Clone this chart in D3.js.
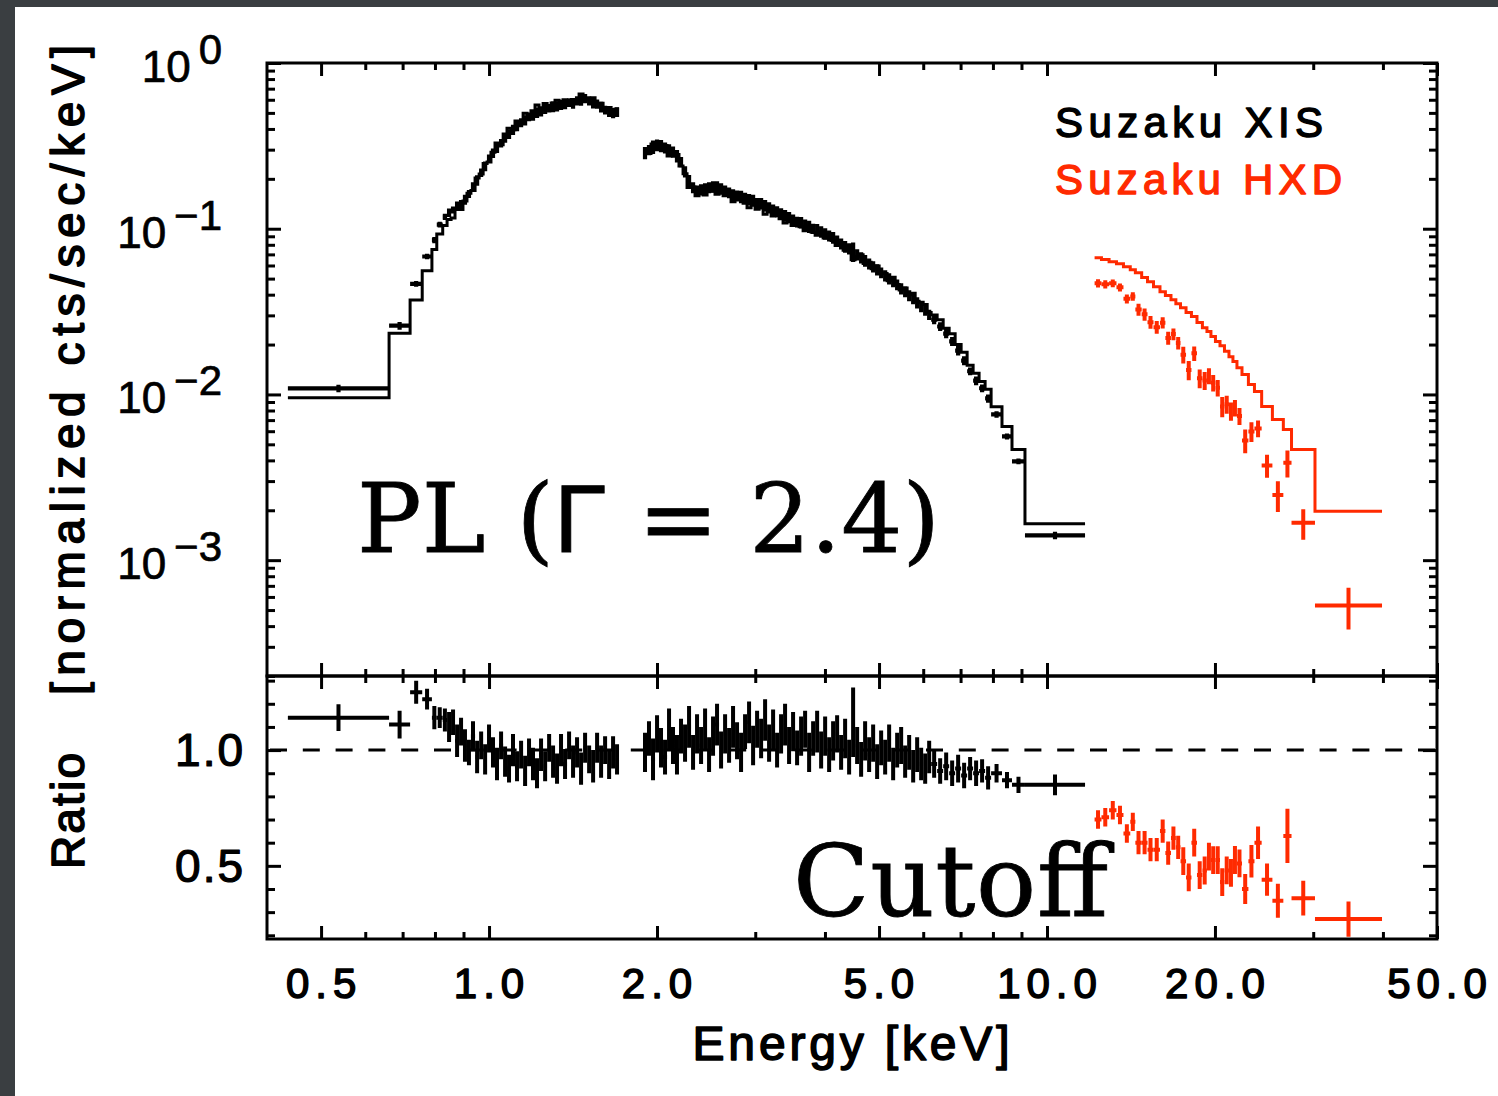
<!DOCTYPE html>
<html>
<head>
<meta charset="utf-8">
<script src="https://cdn.jsdelivr.net/npm/d3@7"></script>
<style>
  body { margin: 0; background: #fff; }
  svg { display: block; }
</style>
</head>
<body>
<svg id="chart" width="1498" height="1096"></svg>
<script>
// ---------------- Suzaku XIS, below the 1.7-1.9 keV gap ----------------
const xisEdgesA = [0.436, 0.662, 0.722, 0.759, 0.790, 0.806, 0.826, 0.841,
  0.855, 0.869, 0.884, 0.898, 0.913, 0.928, 0.944, 0.960, 0.976, 0.992,
  1.008, 1.025, 1.042, 1.060, 1.077, 1.095, 1.113, 1.132, 1.151, 1.170,
  1.189, 1.209, 1.229, 1.250, 1.271, 1.292, 1.313, 1.335, 1.357, 1.380,
  1.403, 1.426, 1.450, 1.474, 1.499, 1.524, 1.549, 1.575, 1.601, 1.628,
  1.655, 1.682, 1.710];
const xisRateA = [0.01087, 0.0260, 0.0465, 0.0680, 0.0855, 0.106, 0.118,
  0.125, 0.130, 0.137, 0.141, 0.150, 0.162, 0.180, 0.196, 0.218, 0.238,
  0.265, 0.286, 0.309, 0.328, 0.354, 0.372, 0.396, 0.416, 0.437, 0.452,
  0.474, 0.485, 0.502, 0.512, 0.530, 0.534, 0.545, 0.549, 0.560, 0.565,
  0.576, 0.572, 0.592, 0.598, 0.610, 0.590, 0.574, 0.566, 0.543, 0.521,
  0.507, 0.500, 0.507];
const xisRatioA = [1.14, 1.11, 1.25, 1.22, 1.14, 1.14, 1.13,
  1.10, 1.12, 1.04, 1.08, 1.02, 0.99, 1.06, 0.97, 1.02, 0.96,
  1.05, 0.99, 0.94, 1.02, 0.95, 0.92, 1.00, 0.93, 0.98, 0.91,
  0.99, 0.94, 0.90, 0.98, 0.93, 1.01, 0.95, 0.92, 1.00, 0.94,
  1.02, 0.95, 0.99, 0.92, 1.01, 0.96, 0.93, 1.01, 0.95, 1.00,
  0.94, 0.99, 0.96];
const xisRatioErrA = [0.058, 0.060, 0.050, 0.045, 0.050, 0.045, 0.050,
  0.065, 0.055, 0.070, 0.060, 0.070, 0.055, 0.065, 0.070, 0.060, 0.065,
  0.060, 0.065, 0.070, 0.060, 0.065, 0.060, 0.070, 0.065, 0.060, 0.065,
  0.060, 0.070, 0.065, 0.070, 0.065, 0.060, 0.070, 0.065, 0.070, 0.065,
  0.060, 0.070, 0.065, 0.070, 0.065, 0.060, 0.070, 0.065, 0.070, 0.060,
  0.065, 0.070, 0.065];

// ---------------- Suzaku XIS, above the gap ----------------
const xisEdgesB = [1.888, 1.919, 1.951, 1.984, 2.017, 2.050, 2.085, 2.119, 2.154, 2.190,
  2.227, 2.264, 2.302, 2.340, 2.379, 2.419, 2.459, 2.500, 2.541, 2.584,
  2.627, 2.671, 2.715, 2.760, 2.806, 2.853, 2.900, 2.949, 2.998, 3.048,
  3.099, 3.150, 3.203, 3.256, 3.310, 3.365, 3.421, 3.478, 3.536, 3.595,
  3.655, 3.716, 3.778, 3.841, 3.905, 3.970, 4.036, 4.103, 4.171, 4.241,
  4.311, 4.383, 4.456, 4.530, 4.606, 4.682, 4.760, 4.840, 4.920, 5.002,
  5.086, 5.170, 5.256, 5.344, 5.433, 5.523, 5.615, 5.709, 5.804, 5.900,
  5.999, 6.099, 6.200,
  6.355, 6.515, 6.678, 6.845, 7.016, 7.192, 7.372, 7.556, 7.746, 7.940,
  8.305, 8.655, 9.131, 11.70];
const xisRateB = [0.287, 0.299, 0.312, 0.321, 0.316, 0.308, 0.299, 0.291, 0.275, 0.253,
  0.221, 0.195, 0.177, 0.169, 0.172, 0.174, 0.177, 0.179, 0.179, 0.174,
  0.169, 0.165, 0.160, 0.158, 0.156, 0.154, 0.150, 0.148, 0.143, 0.142,
  0.138, 0.134, 0.130, 0.127, 0.123, 0.120, 0.117, 0.113, 0.110, 0.109,
  0.106, 0.103, 0.100, 0.0986, 0.0959, 0.0933, 0.0907, 0.0883, 0.0847, 0.0812,
  0.0779, 0.0758, 0.0727, 0.0697, 0.0669, 0.0642, 0.0615, 0.0590, 0.0566, 0.0543,
  0.0521, 0.0500, 0.0479, 0.0460, 0.0435, 0.0417, 0.0395, 0.0379, 0.0358, 0.0339,
  0.0321, 0.0303,
  0.0283, 0.0257, 0.0233, 0.0209, 0.0184, 0.0160, 0.0138, 0.0121, 0.0109, 0.00946,
  0.00758, 0.00558, 0.00395, 0.00141];
const xisRatioB = [0.99, 1.05, 0.96, 1.07, 1.01, 0.97, 1.09, 1.02, 0.98, 1.06,
  1.03, 1.10, 0.99, 1.07, 1.02, 1.09, 0.98, 1.06, 1.11, 1.00,
  1.07, 1.02, 1.10, 1.04, 0.99, 1.08, 1.12, 1.02, 1.09, 1.05,
  1.13, 1.03, 1.09, 1.00, 1.07, 1.11, 1.02, 1.08, 1.01, 1.06,
  1.09, 0.99, 1.05, 1.08, 1.00, 1.06, 0.98, 1.04, 1.07, 0.99,
  1.05, 0.97, 1.12, 1.02, 0.96, 1.04, 0.98, 1.03, 0.95, 1.01,
  0.97, 1.03, 0.94, 1.00, 1.02, 0.95, 0.99, 0.93, 0.98, 0.94,
  0.92, 0.97,
  0.94, 0.91, 0.93, 0.90, 0.92, 0.89, 0.92, 0.90, 0.91, 0.88,
  0.90, 0.87, 0.85, 0.85];
const xisRatioErrB = [0.085, 0.075, 0.090, 0.080, 0.085, 0.075, 0.090, 0.080, 0.085, 0.075,
  0.080, 0.090, 0.075, 0.085, 0.080, 0.090, 0.075, 0.085, 0.090, 0.080,
  0.085, 0.075, 0.090, 0.080, 0.085, 0.075, 0.090, 0.085, 0.080, 0.085,
  0.090, 0.080, 0.085, 0.075, 0.085, 0.090, 0.080, 0.085, 0.075, 0.085,
  0.080, 0.085, 0.075, 0.090, 0.080, 0.085, 0.075, 0.085, 0.080, 0.075,
  0.085, 0.075, 0.150, 0.080, 0.075, 0.085, 0.075, 0.080, 0.075, 0.075,
  0.075, 0.080, 0.070, 0.075, 0.080, 0.070, 0.075, 0.070, 0.075, 0.070,
  0.065, 0.070,
  0.060, 0.055, 0.060, 0.055, 0.060, 0.055, 0.050, 0.055, 0.050, 0.050,
  0.040, 0.035, 0.035, 0.045];

// ---------------- Suzaku HXD/PIN ----------------
const hxdLo = [12.17, 12.52, 12.92, 13.32, 13.71, 14.10, 14.40, 14.78, 15.14, 15.52,
  15.94, 16.30, 16.68, 17.02, 17.35, 17.75, 18.15, 18.57, 18.99, 19.35,
  19.67, 20.04, 20.42, 20.80, 21.19, 21.54, 21.90, 22.36, 22.96, 23.54,
  24.25, 25.35, 26.52, 27.43, 30.22];
const hxdHi = [12.52, 12.92, 13.32, 13.71, 14.10, 14.40, 14.78, 15.14, 15.52, 15.94,
  16.30, 16.68, 17.02, 17.35, 17.75, 18.15, 18.57, 18.99, 19.35, 19.67,
  20.04, 20.42, 20.80, 21.19, 21.54, 21.90, 22.36, 22.96, 23.54, 24.25,
  25.35, 26.52, 27.43, 30.22, 39.85];
const hxdRate = [0.04683, 0.04622, 0.04684, 0.04428, 0.03776, 0.03905, 0.03258, 0.03042, 0.02730, 0.02548,
  0.02711, 0.02192, 0.02313, 0.02047, 0.01737, 0.01404, 0.01770, 0.01251, 0.01214, 0.01296,
  0.01176, 0.01097, 0.00847, 0.00874, 0.00794, 0.00830, 0.00740, 0.00528, 0.00598, 0.00624,
  0.00373, 0.00247, 0.00387, 0.00168, 0.000532];
const hxdRateErr = [0.00268, 0.00260, 0.00253, 0.00246, 0.00236, 0.00226, 0.00272, 0.00254, 0.00240, 0.00224,
  0.00209, 0.00198, 0.00187, 0.00177, 0.00200, 0.00187, 0.00177, 0.00163, 0.00152, 0.00144,
  0.00134, 0.00125, 0.00118, 0.00109, 0.00101, 0.00095, 0.00087, 0.00086, 0.00081, 0.00073,
  0.00059, 0.00052, 0.00072, 0.00035, 0.00015];
const hxdModel = [0.0669, 0.0651, 0.0633, 0.0615, 0.0590, 0.0566, 0.0543, 0.0507, 0.0479, 0.0447,
  0.0417, 0.0395, 0.0373, 0.0353, 0.0334, 0.0312, 0.0295, 0.0272, 0.0253, 0.0240,
  0.0224, 0.0209, 0.0197, 0.0182, 0.0169, 0.0158, 0.0145, 0.0132, 0.0115, 0.0104,
  0.00847, 0.00707, 0.00615, 0.00466, 0.00197];

// ---------------- axes ----------------
const xMajor = [0.5, 1, 2, 5, 10, 20, 50];
const xMajorLabels = ["0.5", "1.0", "2.0", "5.0", "10.0", "20.0", "50.0"];
const xMinor = [0.6, 0.7, 0.8, 0.9, 3, 4, 6, 7, 8, 9, 30, 40];
const specDecades = [1, 1e-1, 1e-2, 1e-3];
const specDecadeExp = ["0", "\u22121", "\u22122", "\u22123"];
const ratioMajor = [0.5, 1.0];
const ratioLabels = ["0.5", "1.0"];
const ratioMinor = [0.2, 0.3, 0.4, 0.6, 0.7, 0.8, 0.9, 1.1, 1.2, 1.3];

const BLACK = "#000000";
const RED = "#ff2a00";
const SANS = "'Liberation Sans', Arial, Helvetica, sans-serif";
const SERIF = "'DejaVu Serif', serif";

const svg = d3.select("#chart");
const W = 1498, H = 1096;

// page background with dark frame
svg.append("rect").attr("width", W).attr("height", H).attr("fill", "#3a3e41");
svg.append("rect").attr("x", 15).attr("y", 7).attr("width", W - 15).attr("height", H - 7).attr("fill", "#ffffff");

// panel geometry
const L = 267, R = 1437, T = 63, M = 676, B = 939;
const x = d3.scaleLog().domain([0.4, 50]).range([L, R]);
const yS = d3.scaleLog().domain([2e-4, 1]).range([M, T]);
const yR = d3.scaleLinear().domain([0.184, 1.32]).range([B, M]);

// bins
function xisBins(edges, rate, ratio, err) {
  return rate.map((r, i) => {
    const lo = edges[i], hi = edges[i + 1];
    const model = r / ratio[i];
    return { lo, hi, e: Math.sqrt(lo * hi), rate: r, rateErr: model * err[i],
             model, ratio: ratio[i], ratioErr: err[i] };
  });
}
const xisA = xisBins(xisEdgesA, xisRateA, xisRatioA, xisRatioErrA);
const xisB = xisBins(xisEdgesB, xisRateB, xisRatioB, xisRatioErrB);
const hxd = hxdRate.map((r, i) => ({
  lo: hxdLo[i], hi: hxdHi[i], e: Math.sqrt(hxdLo[i] * hxdHi[i]),
  rate: r, rateErr: hxdRateErr[i], model: hxdModel[i],
  ratio: r / hxdModel[i], ratioErr: hxdRateErr[i] / hxdModel[i]
}));

// ticks (drawn inward on every side)
function ticks(axis, transform, values, size) {
  const g = svg.append("g").attr("transform", transform)
    .call(axis.tickValues(values).tickSize(size).tickFormat(""));
  g.select(".domain").remove();
  g.selectAll("line").attr("stroke", BLACK).attr("stroke-width", 3);
}
ticks(d3.axisTop(x), `translate(0,${T})`, xMajor, -13);
ticks(d3.axisTop(x), `translate(0,${T})`, xMinor, -7);
ticks(d3.axisBottom(x), `translate(0,${M})`, xMajor, -13);
ticks(d3.axisBottom(x), `translate(0,${M})`, xMinor, -7);
ticks(d3.axisTop(x), `translate(0,${M})`, xMajor, -13);
ticks(d3.axisTop(x), `translate(0,${M})`, xMinor, -7);
ticks(d3.axisBottom(x), `translate(0,${B})`, xMajor, -13);
ticks(d3.axisBottom(x), `translate(0,${B})`, xMinor, -7);

const specAll = yS.ticks();
const specMinor = specAll.filter(v => !specDecades.some(d => Math.abs(v / d - 1) < 1e-6));
ticks(d3.axisLeft(yS), `translate(${L},0)`, specDecades, -14);
ticks(d3.axisLeft(yS), `translate(${L},0)`, specMinor, -8);
ticks(d3.axisRight(yS), `translate(${R},0)`, specDecades, -14);
ticks(d3.axisRight(yS), `translate(${R},0)`, specMinor, -8);
ticks(d3.axisLeft(yR), `translate(${L},0)`, ratioMajor, -14);
ticks(d3.axisLeft(yR), `translate(${L},0)`, ratioMinor, -8);
ticks(d3.axisRight(yR), `translate(${R},0)`, ratioMajor, -14);
ticks(d3.axisRight(yR), `translate(${R},0)`, ratioMinor, -8);

// unity line in the ratio panel
svg.append("line")
  .attr("x1", 270).attr("x2", R).attr("y1", yR(1)).attr("y2", yR(1))
  .attr("stroke", BLACK).attr("stroke-width", 3).attr("stroke-dasharray", "17 15.8");

// annotations inside the panels
const pl = svg.append("text")
  .attr("x", 357).attr("y", 552)
  .attr("font-family", SERIF).attr("font-size", 96).attr("fill", BLACK)
  .attr("stroke", BLACK).attr("stroke-width", 0.8)
  .attr("textLength", 583).attr("lengthAdjust", "spacing");
pl.append("tspan").text("PL (");
pl.append("tspan").attr("font-family", SANS).text("\u0393");
pl.append("tspan").text(" = 2.4)");

svg.append("text")
  .attr("x", 793).attr("y", 916)
  .attr("font-family", SERIF).attr("font-size", 100).attr("fill", BLACK)
  .attr("stroke", BLACK).attr("stroke-width", 0.8)
  .attr("textLength", 315).attr("lengthAdjust", "spacing")
  .text("Cutoff");

// error-bar crosses
function crosses(data, yScale, val, err, color, sw) {
  svg.append("g")
    .attr("fill", "none").attr("stroke", color).attr("stroke-width", sw)
    .selectAll("path").data(data).join("path")
    .attr("d", d => {
      const v = val(d), e = err(d);
      return `M${x(d.lo)},${yScale(v)}H${x(d.hi)}` +
             `M${x(d.e)},${yScale(v - e)}V${yScale(v + e)}`;
    });
}
// model step lines
function steps(data, color) {
  const pts = [];
  data.forEach(d => { pts.push([d.lo, d.model]); pts.push([d.hi, d.model]); });
  svg.append("path")
    .attr("d", d3.line().x(p => x(p[0])).y(p => yS(p[1]))(pts))
    .attr("fill", "none").attr("stroke", color).attr("stroke-width", 3);
}

// spectrum panel
steps(xisA, BLACK);
steps(xisB, BLACK);
crosses(xisA, yS, d => d.rate, d => d.rateErr, BLACK, 4.2);
crosses(xisB, yS, d => d.rate, d => d.rateErr, BLACK, 4.2);
steps(hxd, RED);
crosses(hxd, yS, d => d.rate, d => d.rateErr, RED, 4);

// ratio panel
crosses(xisA, yR, d => d.ratio, d => d.ratioErr, BLACK, 4);
crosses(xisB, yR, d => d.ratio, d => d.ratioErr, BLACK, 4);
crosses(hxd, yR, d => d.ratio, d => d.ratioErr, RED, 4);

// frames
svg.append("rect").attr("x", L).attr("y", T).attr("width", R - L).attr("height", M - T)
  .attr("fill", "none").attr("stroke", BLACK).attr("stroke-width", 3);
svg.append("rect").attr("x", L).attr("y", M).attr("width", R - L).attr("height", B - M)
  .attr("fill", "none").attr("stroke", BLACK).attr("stroke-width", 3);

// legend
svg.append("text").attr("x", 1055).attr("y", 137)
  .attr("font-family", SANS).attr("font-size", 42).attr("fill", BLACK)
  .attr("stroke", BLACK).attr("stroke-width", 1.4).attr("stroke-linejoin", "round")
  .attr("textLength", 268).attr("lengthAdjust", "spacing").text("Suzaku XIS");
svg.append("text").attr("x", 1055).attr("y", 194)
  .attr("font-family", SANS).attr("font-size", 42).attr("fill", RED)
  .attr("stroke", RED).attr("stroke-width", 1.4).attr("stroke-linejoin", "round")
  .attr("textLength", 287).attr("lengthAdjust", "spacing").text("Suzaku HXD");

// x tick labels
svg.append("g").selectAll("text").data(xMajor).join("text")
  .attr("x", d => x(d) + 3).attr("y", 998)
  .attr("text-anchor", "middle")
  .attr("font-family", SANS).attr("font-size", 42).attr("letter-spacing", 6)
  .attr("fill", BLACK).attr("stroke", BLACK).attr("stroke-width", 1.5)
  .attr("stroke-linejoin", "round")
  .text((d, i) => xMajorLabels[i]);

// spectrum y tick labels (powers of ten)
specDecades.forEach((d, i) => {
  const t = svg.append("text")
    .attr("x", 222).attr("y", yS(d) + 19)
    .attr("text-anchor", "end")
    .attr("font-family", SANS).attr("font-size", 44)
    .attr("fill", BLACK).attr("stroke", BLACK).attr("stroke-width", 0.7);
  t.append("tspan").text("10");
  t.append("tspan").attr("dx", 8).attr("dy", -18).attr("font-size", 42).text(specDecadeExp[i]);
});

// ratio y tick labels
svg.append("g").selectAll("text").data(ratioMajor).join("text")
  .attr("x", 245).attr("y", d => yR(d) + 16)
  .attr("text-anchor", "end")
  .attr("font-family", SANS).attr("font-size", 46).attr("letter-spacing", 2)
  .attr("fill", BLACK).attr("stroke", BLACK).attr("stroke-width", 1.2)
  .attr("stroke-linejoin", "round")
  .text((d, i) => ratioLabels[i]);

// axis titles
svg.append("text")
  .attr("transform", "translate(84,370) rotate(-90)")
  .attr("text-anchor", "middle")
  .attr("font-family", SANS).attr("font-size", 46)
  .attr("fill", BLACK).attr("stroke", BLACK).attr("stroke-width", 1.6)
  .attr("stroke-linejoin", "round")
  .attr("textLength", 650).attr("lengthAdjust", "spacing")
  .text("[normalized cts/sec/keV]");
svg.append("text")
  .attr("transform", "translate(84,811) rotate(-90)")
  .attr("text-anchor", "middle")
  .attr("font-family", SANS).attr("font-size", 46)
  .attr("fill", BLACK).attr("stroke", BLACK).attr("stroke-width", 1.6)
  .attr("stroke-linejoin", "round")
  .attr("textLength", 116).attr("lengthAdjust", "spacing")
  .text("Ratio");
svg.append("text")
  .attr("x", 851).attr("y", 1060)
  .attr("text-anchor", "middle")
  .attr("font-family", SANS).attr("font-size", 48)
  .attr("fill", BLACK).attr("stroke", BLACK).attr("stroke-width", 1.6)
  .attr("stroke-linejoin", "round")
  .attr("textLength", 317).attr("lengthAdjust", "spacing")
  .text("Energy [keV]");
</script>
</body>
</html>
